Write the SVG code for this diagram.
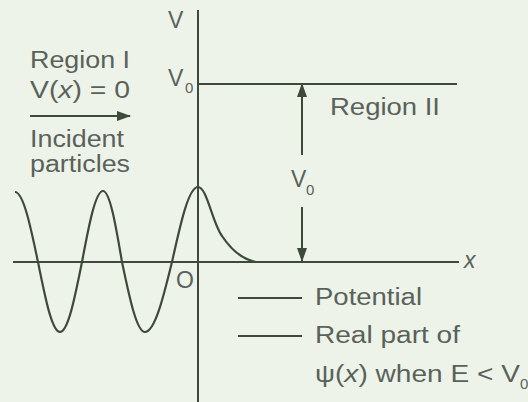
<svg xmlns="http://www.w3.org/2000/svg" width="528" height="402" viewBox="0 0 528 402">
  <defs>
    <style>
      .ln { stroke: #3e4a39; stroke-width: 2; fill: none; }
      .wave { stroke: #3e4a39; stroke-width: 2.2; fill: none; stroke-linejoin: round; }
      .t { font-family: "Liberation Sans", Arial, sans-serif; font-size: 23px; fill: #59625a; }
      .sub { font-family: "Liberation Sans", Arial, sans-serif; font-size: 15px; fill: #59625a; }
      .it { font-style: italic; }
    </style>
    <marker id="ah" viewBox="0 0 14 10" refX="13" refY="5" markerWidth="14" markerHeight="10" markerUnits="userSpaceOnUse" orient="auto">
      <path d="M0,0 L14,5 L0,10 Z" fill="#3e4a39"/>
    </marker>
  </defs>
  <rect width="528" height="402" fill="#eef3ea"/>

  <g id="axes">
    <line class="ln" x1="198" y1="10" x2="198" y2="402"/>
    <line class="ln" x1="13" y1="262" x2="459" y2="262"/>
    <text class="t" x="168" y="28">V</text>
    <text class="t it" x="464" y="268" font-size="20">x</text>
    <text class="t" x="176" y="288" font-size="20">O</text>
  </g>

  <g id="potential">
    <line class="ln" x1="198" y1="84" x2="457" y2="84"/>
    <text class="t" x="168" y="86">V</text>
    <text class="sub" x="185" y="93">0</text>
  </g>

  <g id="wavefunction">
    <path class="wave" d="M15,192 C23.3,192 30.5,226.1 38,262 C45.2,297.9 52,332 60,332 C68,332 74.8,297.9 82,262 C88.8,225.6 95.4,191 103,191 C109.9,191 115.8,225.6 122,262 C129.5,297.9 136.7,332 145,332 C154.8,332 163.2,297.9 172,262 C180.5,223.5 188.6,187 198,187 C207,187 212,222 222,236 C230,248 240,259 256,262"/>
  </g>

  <g id="region-1">
    <text class="t" x="30" y="68" textLength="100" lengthAdjust="spacingAndGlyphs">Region I</text>
    <text class="t" x="30" y="98" textLength="100" lengthAdjust="spacingAndGlyphs">V(<tspan class="it">x</tspan>) = 0</text>
    <text class="t" x="30" y="147" textLength="94" lengthAdjust="spacingAndGlyphs">Incident</text>
    <text class="t" x="30" y="172" textLength="100" lengthAdjust="spacingAndGlyphs">particles</text>
  </g>

  <g id="region-2">
    <text class="t" x="330" y="115" textLength="110" lengthAdjust="spacingAndGlyphs">Region II</text>
  </g>

  <g id="v0-label">
    <text class="t" x="291" y="187">V</text>
    <text class="sub" x="306" y="195">0</text>
  </g>

  <g id="connectors">
    <line class="ln" x1="30" y1="116" x2="130" y2="116" marker-end="url(#ah)"/>
    <line class="ln" x1="302" y1="155" x2="302" y2="84" marker-end="url(#ah)"/>
    <line class="ln" x1="302" y1="207" x2="302" y2="261" marker-end="url(#ah)"/>
  </g>

  <g id="legend">
    <line class="ln" x1="238" y1="298" x2="302" y2="298"/>
    <line class="ln" x1="238" y1="336" x2="302" y2="336"/>
    <text class="t" x="315" y="305" textLength="107" lengthAdjust="spacingAndGlyphs">Potential</text>
    <text class="t" x="315" y="343" textLength="145" lengthAdjust="spacingAndGlyphs">Real part of</text>
    <text class="t" x="315" y="382" textLength="205" lengthAdjust="spacingAndGlyphs">ψ(<tspan class="it">x</tspan>) when E &lt; V</text>
    <text class="sub" x="520" y="389">0</text>
  </g>
</svg>
